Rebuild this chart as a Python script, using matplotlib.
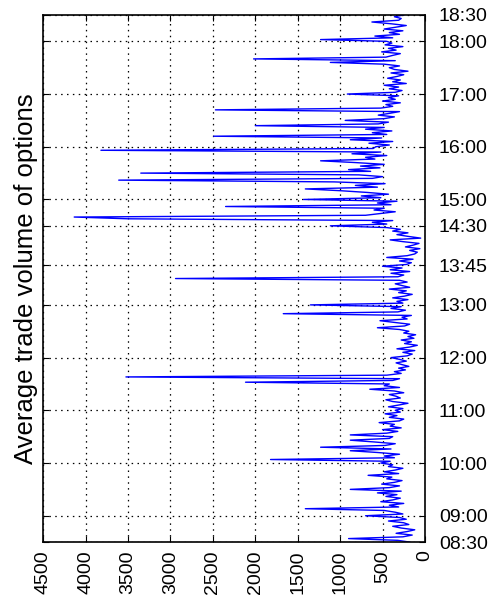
import numpy as np
import matplotlib
matplotlib.use("Agg")
import matplotlib.pyplot as plt

plt.rcParams['font.family'] = ['Liberation Sans', 'DejaVu Sans']

# average trade volume, one value every 2 minutes from 08:30 to 18:30
# (each row = half an hour)
volume = [
    180, 320, 900, 260, 150, 340, 210, 120, 280, 380, 190, 250, 430, 220, 300,
    700, 260, 350, 480, 1410, 310, 420, 250, 520, 380, 290, 460, 330, 560, 280,
    880, 420, 300, 510, 360, 270, 450, 390, 670, 310, 480, 350, 260, 430, 380,
    520, 410, 1820, 360, 480, 300, 560, 880, 400, 1230, 470, 350, 600, 880, 420,
    380, 880, 450, 320, 500, 280, 410, 360, 540, 300, 250, 420, 330, 470, 290,
    350, 260, 430, 310, 200, 380, 460, 290, 340, 420, 250, 360, 650, 300, 480,
    420, 2115, 380, 300, 3525, 450, 280, 360, 230, 310, 190, 270, 340, 220, 300,
    400, 210, 150, 260, 120, 330, 180, 90, 240, 160, 280, 130, 200, 110, 250,
    190, 300, 560, 240, 180, 350, 530, 210, 270, 160, 1670, 320, 230, 400, 280,
    1350, 260, 330, 200, 380, 240, 150, 310, 220, 420, 180, 270, 350, 210, 300,
    2940, 320, 250, 400, 180, 410, 270, 500, 220, 160, 300, 140, 450, 210, 120,
    90, 180, 60, 230, 140, 70, 260, 410, 50, 200, 330, 200, 380, 290, 450,
    1115, 450, 620, 380, 3500, 4135, 700, 520, 350, 600, 480, 2350, 400, 560, 330,
    1430, 520, 750, 430, 680, 1000, 1410, 560, 820, 470, 1070, 3610, 620, 500, 780,
    3350, 640, 900, 530, 760, 480, 820, 1230, 590, 700, 450, 860, 520, 3820, 610,
    580, 420, 660, 380, 880, 510, 2490, 450, 620, 390, 700, 480, 2000, 550, 430,
    940, 480, 360, 550, 420, 300, 2470, 520, 380, 460, 290, 500, 350, 430, 310,
    915, 350, 270, 420, 310, 480, 220, 380, 290, 440, 330, 250, 400, 200, 360,
    420, 300, 480, 1115, 350, 2020, 460, 380, 290, 510, 340, 430, 260, 470, 390,
    450, 1230, 380, 590, 300, 420, 260, 480, 350, 220, 400, 625, 310, 280, 360,
    250,
]
start_time = "08:30"
step_min = 2

time_labels = ["08:30", "09:00", "10:00", "11:00", "12:00", "13:00", "13:45",
               "14:30", "15:00", "16:00", "17:00", "18:00", "18:30"]
volume_ticks = [0, 500, 1000, 1500, 2000, 2500, 3000, 3500, 4000, 4500]


def to_hours(s):
    h, m = s.split(":")
    return int(h) + int(m) / 60.0


t0 = to_hours(start_time)
times = t0 + np.arange(len(volume)) * step_min / 60.0
tick_pos = [to_hours(s) for s in time_labels]

fig = plt.figure(figsize=(4.97, 5.99), dpi=100)
ax = fig.add_axes([0.087, 0.095, 0.768, 0.88])

ax.plot(volume, times, color='#0000ff', lw=1.0)

ax.set_xlim(4500, 0)
ax.set_ylim(tick_pos[0], tick_pos[-1])
ax.set_xticks(volume_ticks)
ax.set_xticklabels([str(v) for v in volume_ticks], rotation=90, fontsize=14)
ax.set_yticks(tick_pos)
ax.set_yticklabels(time_labels, fontsize=14)

ax.tick_params(axis='x', direction='in', top=True, bottom=True, length=4, pad=6)
ax.tick_params(axis='y', direction='in', left=True, right=True,
               labelleft=False, labelright=True, length=4, pad=10)

ax.grid(True, color='black', linestyle=(0, (1.2, 3.5)), lw=0.9)
for s in ax.spines.values():
    s.set_linewidth(1.2)

ax.set_ylabel("Average trade volume of options", fontsize=18.5, labelpad=4)

plt.savefig("out.png", dpi=100)
